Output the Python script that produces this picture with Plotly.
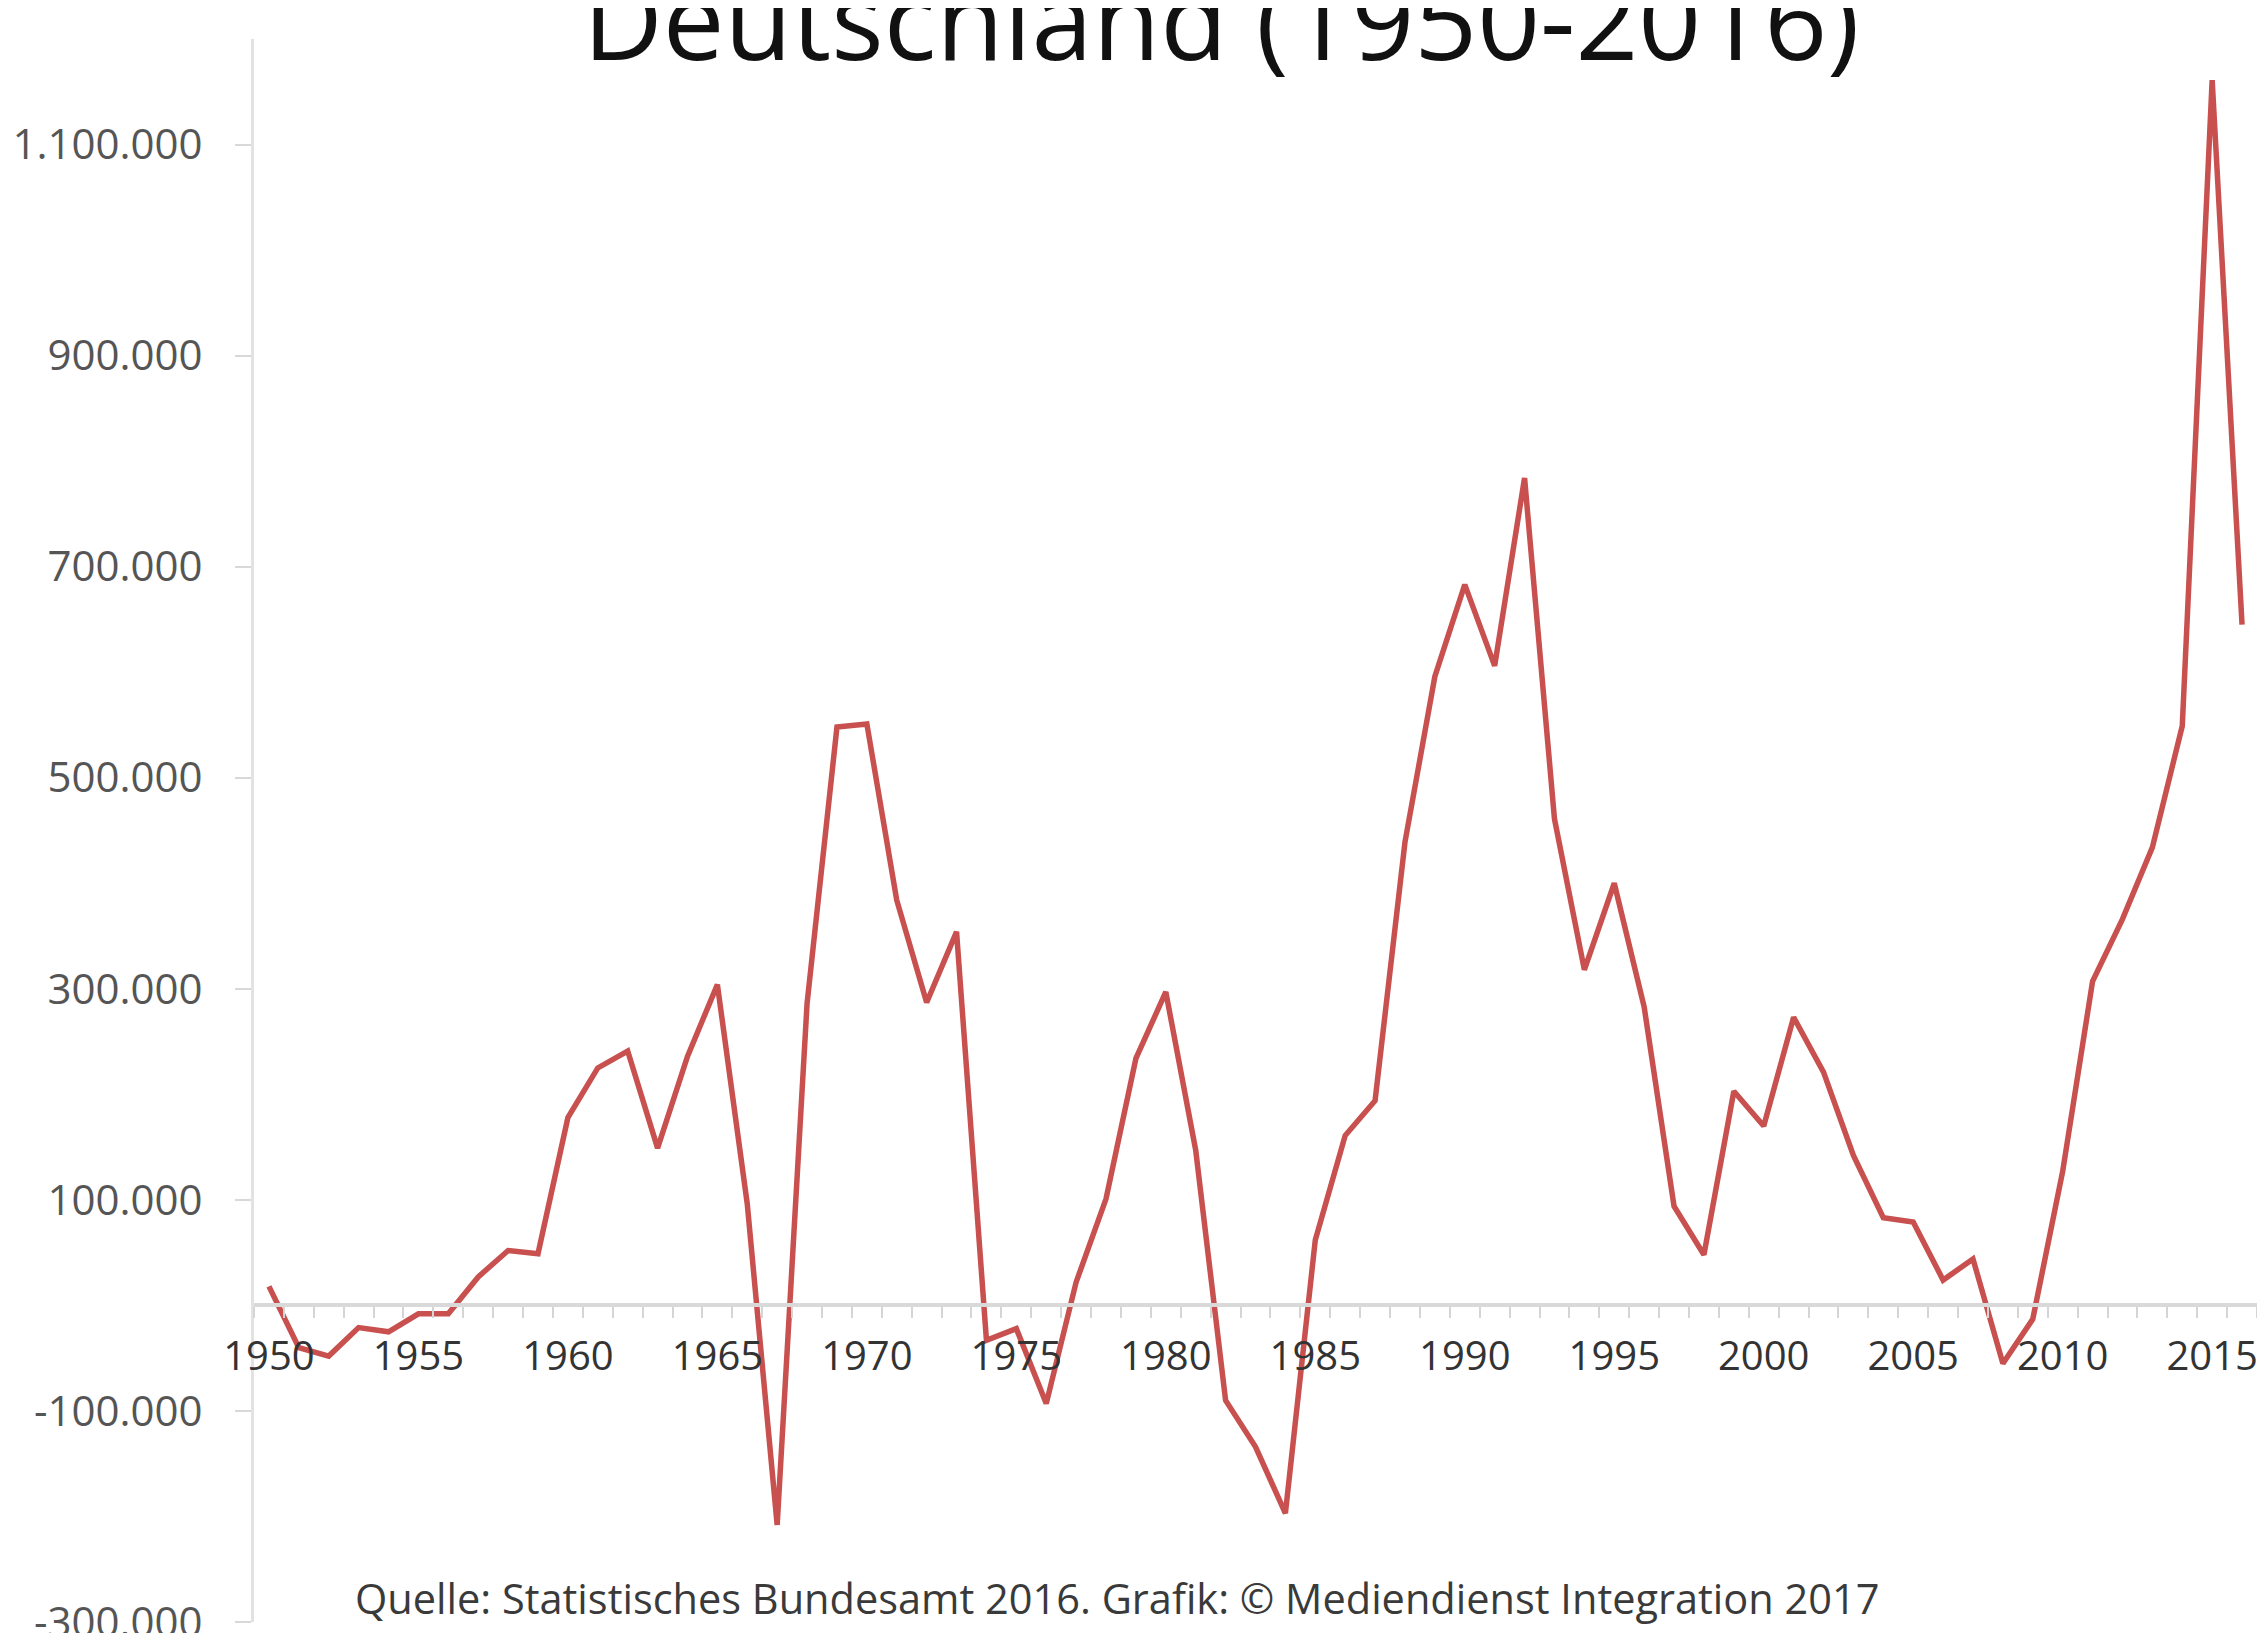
import plotly.graph_objects as go

years = list(range(1950, 2017))
saldo = [
    18000, -40000, -48000, -21000, -25000, -8000, -8000, 27000, 52000, 49000,
    178000, 225000, 241000, 149000, 236000, 304000, 96000, -208000, 286000, 548000,
    551000, 384000, 287000, 354000, -33000, -22000, -93000, 22000, 101000, 234000,
    297000, 147000, -90000, -134000, -197000, 62000, 161000, 194000, 439000, 596000,
    683000, 606000, 784000, 461000, 318000, 400000, 283000, 94000, 48000, 203000,
    170000, 273000, 221000, 142000, 83000, 79000, 24000, 44000, -55000, -13000,
    127000, 307000, 366000, 434000, 549000, 1161000, 645000,
]

y_tick_vals = [-300000, -100000, 100000, 300000, 500000, 700000, 900000, 1100000]
y_tick_text = ["-300.000", "-100.000", "100.000", "300.000", "500.000",
               "700.000", "900.000", "1.100.000"]
x_tick_vals = list(range(1950, 2016, 5))
x_tick_text = [str(v) for v in x_tick_vals]

title_text = "Deutschland (1950-2016)"
source_text = "Quelle: Statistisches Bundesamt 2016. Grafik: © Mediendienst Integration 2017"

y_min, y_max = -300000, 1200000
zero_pos = (0 - y_min) / (y_max - y_min)

fig = go.Figure()
fig.add_trace(go.Scatter(
    x=years, y=saldo, mode="lines",
    line=dict(color="#c8504e", width=5.5),
    showlegend=False, hoverinfo="x+y",
))

fig.update_layout(
    width=2265, height=1633,
    margin=dict(l=246, r=16, t=31, b=19, autoexpand=False),
    paper_bgcolor="white", plot_bgcolor="white",
    font=dict(family="Open Sans", color="#555555"),
    separators=",.",
    showlegend=False,
    xaxis=dict(
        range=[1949.5, 2016.5], automargin=False,
        anchor="free", position=zero_pos,
        showline=True, linecolor="#d9d9d9", linewidth=4,
        showgrid=False, zeroline=False,
        tickmode="array", tickvals=x_tick_vals, ticktext=x_tick_text,
        ticks="", ticklabelstandoff=15,
        tickfont=dict(family="Open Sans", size=40, color="#333333"),
        minor=dict(tickmode="linear", tick0=1949.5, dtick=1, ticks="outside",
                   ticklen=11, tickwidth=2, tickcolor="#d5d5d5", showgrid=False),
    ),
    yaxis=dict(
        range=[y_min, y_max], automargin=False,
        showline=True, linecolor="#e2e2e2", linewidth=3,
        showgrid=False, zeroline=False,
        tickmode="array", tickvals=y_tick_vals, ticktext=y_tick_text,
        ticks="outside", ticklen=16, tickwidth=2, tickcolor="#d8d8d8",
        ticklabelstandoff=24, ticklabeloverflow="allow",
        tickfont=dict(family="Open Sans", size=42, color="#555555"),
    ),
)

fig.add_annotation(
    text=title_text, xref="paper", yref="paper",
    x=0.483, y=0.9655, xanchor="center", yanchor="bottom",
    showarrow=False,
    font=dict(family="Open Sans", size=110, color="#111111"),
)
fig.add_annotation(
    text=source_text, xref="paper", yref="paper",
    x=0.431, y=0.0152, xanchor="center", yanchor="middle",
    showarrow=False,
    font=dict(family="Open Sans", size=41.5, color="#3a3a3a"),
)

fig.write_html("out.html")
